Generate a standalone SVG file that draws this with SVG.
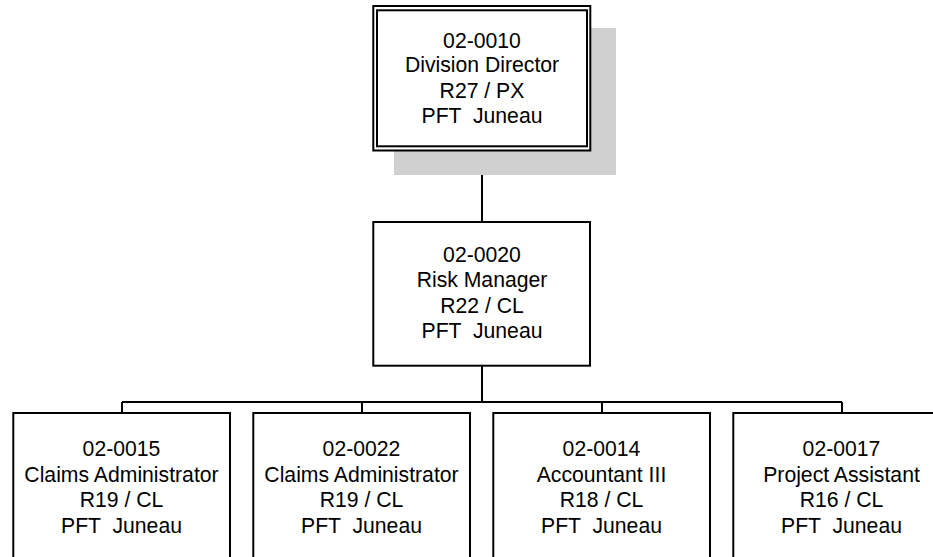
<svg xmlns="http://www.w3.org/2000/svg" width="933" height="557" viewBox="0 0 933 557">
<style>
.box{fill:#fff;stroke:#000;stroke-width:2}
.t{font-family:"Liberation Sans",Arial,sans-serif;font-size:21.2px;fill:#000;text-anchor:middle;white-space:pre}
.c{fill:none;stroke:#000;stroke-width:2}
</style>
<rect width="933" height="557" fill="#fff"/>
<g id="connectors">
<path class="c" d="M482,151 V222 M482,366 V402 M122,402 H842 M122,402 V413 M362,402 V413 M602,402 V413 M842,402 V413"/>
</g>
<g id="n0010">
<rect x="394" y="28" width="222" height="147" fill="#d0d0d0"/>
<rect class="box" x="373.3" y="6" width="217" height="144.5"/>
<rect class="box" x="377" y="10.3" width="210" height="136"/>
<text class="t" x="482" y="47.5" xml:space="preserve">02-0010</text>
<text class="t" x="482" y="72.3" xml:space="preserve">Division Director</text>
<text class="t" x="482" y="97.6" xml:space="preserve">R27 / PX</text>
<text class="t" x="482" y="122.8" xml:space="preserve">PFT  Juneau</text>
</g>
<g id="n0020">
<rect class="box" x="373.3" y="222" width="216.7" height="143.7"/>
<text class="t" x="482" y="261.7" xml:space="preserve">02-0020</text>
<text class="t" x="482" y="287.2" xml:space="preserve">Risk Manager</text>
<text class="t" x="482" y="312.5" xml:space="preserve">R22 / CL</text>
<text class="t" x="482" y="337.8" xml:space="preserve">PFT  Juneau</text>
</g>
<g id="n0015">
<rect class="box" x="13.3" y="413" width="216.7" height="160"/>
<text class="t" x="121.5" y="456" xml:space="preserve">02-0015</text>
<text class="t" x="121.5" y="481.6" xml:space="preserve">Claims Administrator</text>
<text class="t" x="121.5" y="507.2" xml:space="preserve">R19 / CL</text>
<text class="t" x="121.5" y="532.7" xml:space="preserve">PFT  Juneau</text>
</g>
<g id="n0022">
<rect class="box" x="253.3" y="413" width="216.7" height="160"/>
<text class="t" x="361.5" y="456" xml:space="preserve">02-0022</text>
<text class="t" x="361.5" y="481.6" xml:space="preserve">Claims Administrator</text>
<text class="t" x="361.5" y="507.2" xml:space="preserve">R19 / CL</text>
<text class="t" x="361.5" y="532.7" xml:space="preserve">PFT  Juneau</text>
</g>
<g id="n0014">
<rect class="box" x="493.3" y="413" width="216.7" height="160"/>
<text class="t" x="601.5" y="456" xml:space="preserve">02-0014</text>
<text class="t" x="601.5" y="481.6" xml:space="preserve">Accountant III</text>
<text class="t" x="601.5" y="507.2" xml:space="preserve">R18 / CL</text>
<text class="t" x="601.5" y="532.7" xml:space="preserve">PFT  Juneau</text>
</g>
<g id="n0017">
<rect class="box" x="733.3" y="413" width="216.7" height="160"/>
<text class="t" x="841.5" y="456" xml:space="preserve">02-0017</text>
<text class="t" x="841.5" y="481.6" xml:space="preserve">Project Assistant</text>
<text class="t" x="841.5" y="507.2" xml:space="preserve">R16 / CL</text>
<text class="t" x="841.5" y="532.7" xml:space="preserve">PFT  Juneau</text>
</g>
</svg>
